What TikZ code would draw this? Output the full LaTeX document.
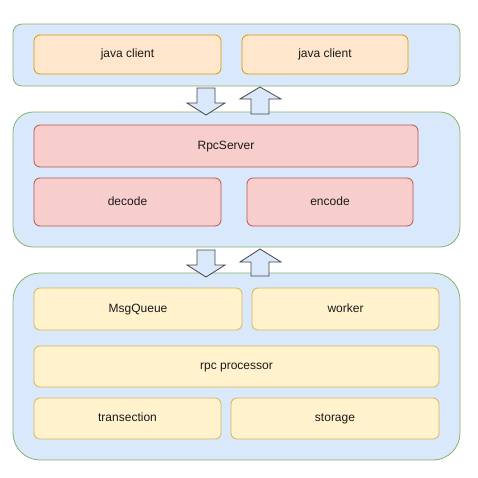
\documentclass[tikz,border=0pt]{standalone}
\usepackage{fontspec}
\setmainfont{Liberation Sans}
\definecolor{contfill}{HTML}{DAE8FC}
\definecolor{contdraw}{HTML}{82B366}
\definecolor{orfill}{HTML}{FFE6CC}
\definecolor{ordraw}{HTML}{D79B00}
\definecolor{redfill}{HTML}{F8CECC}
\definecolor{reddraw}{HTML}{B85450}
\definecolor{yelfill}{HTML}{FFF2CC}
\definecolor{yeldraw}{HTML}{D6B656}
\definecolor{arrdraw}{HTML}{444444}
\definecolor{txt}{HTML}{1A1A1A}
\begin{document}
\begin{tikzpicture}[x=1pt,y=-1pt,
  box/.style={draw, line width=0.8pt, rounded corners=6pt},
  lbl/.style={font=\fontsize{12}{14}\selectfont, text=txt, text height=8.6pt, text depth=2.4pt, inner sep=0pt},
  orbox/.style={box, fill=orfill, draw=ordraw},
  redbox/.style={box, fill=redfill, draw=reddraw},
  yelbox/.style={box, fill=yelfill, draw=yeldraw},
  cont/.style={fill=contfill, draw=contdraw, line width=0.8pt},
  blockarrow/.style={fill=contfill, draw=arrdraw, line width=0.8pt, line join=miter}]
\useasboundingbox (0,0) rectangle (478,477);
% containers
\draw[cont, rounded corners=9pt] (13,24) rectangle (460,86);
\draw[cont, rounded corners=20pt] (13,112) rectangle (460,247);
\draw[cont, rounded corners=27pt] (13,273) rectangle (460,460);
% top
\draw[orbox] (34,35) rectangle node[lbl] (jc1) {java client} (221,74);
\draw[orbox] (242,35) rectangle node[lbl] (jc2) {java client} (408,74);
% middle
\draw[redbox] (34,125) rectangle node[lbl] (rpc) {RpcServer} (418,167);
\draw[redbox] (34,178) rectangle node[lbl] (dec) {decode} (221,226);
\draw[redbox] (247,178) rectangle node[lbl] (enc) {encode} (413,226);
% bottom
\draw[yelbox] (34,288) rectangle node[lbl] (mq) {MsgQueue} (242,330);
\draw[yelbox] (252,288) rectangle node[lbl] (wk) {worker} (439,330);
\draw[yelbox] (34,346) rectangle node[lbl] (rp) {rpc processor} (439,387);
\draw[yelbox] (34,398) rectangle node[lbl] (tr) {transection} (221,439);
\draw[yelbox] (231,398) rectangle node[lbl] (st) {storage} (439,439);
% arrows top pair
\draw[blockarrow] (197,88) -- (215,88) -- (215,103) -- (225,103) -- (206,115) -- (187,103) -- (197,103) -- cycle;
\draw[blockarrow] (251,114) -- (269,114) -- (269,99) -- (281,99) -- (260,87) -- (240,99) -- (251,99) -- cycle;
% arrows bottom pair
\draw[blockarrow] (197,250) -- (215,250) -- (215,265) -- (225,265) -- (206,277) -- (187,265) -- (197,265) -- cycle;
\draw[blockarrow] (251,276) -- (269,276) -- (269,262) -- (281,262) -- (260,249) -- (240,262) -- (251,262) -- cycle;
\end{tikzpicture}
\end{document}
